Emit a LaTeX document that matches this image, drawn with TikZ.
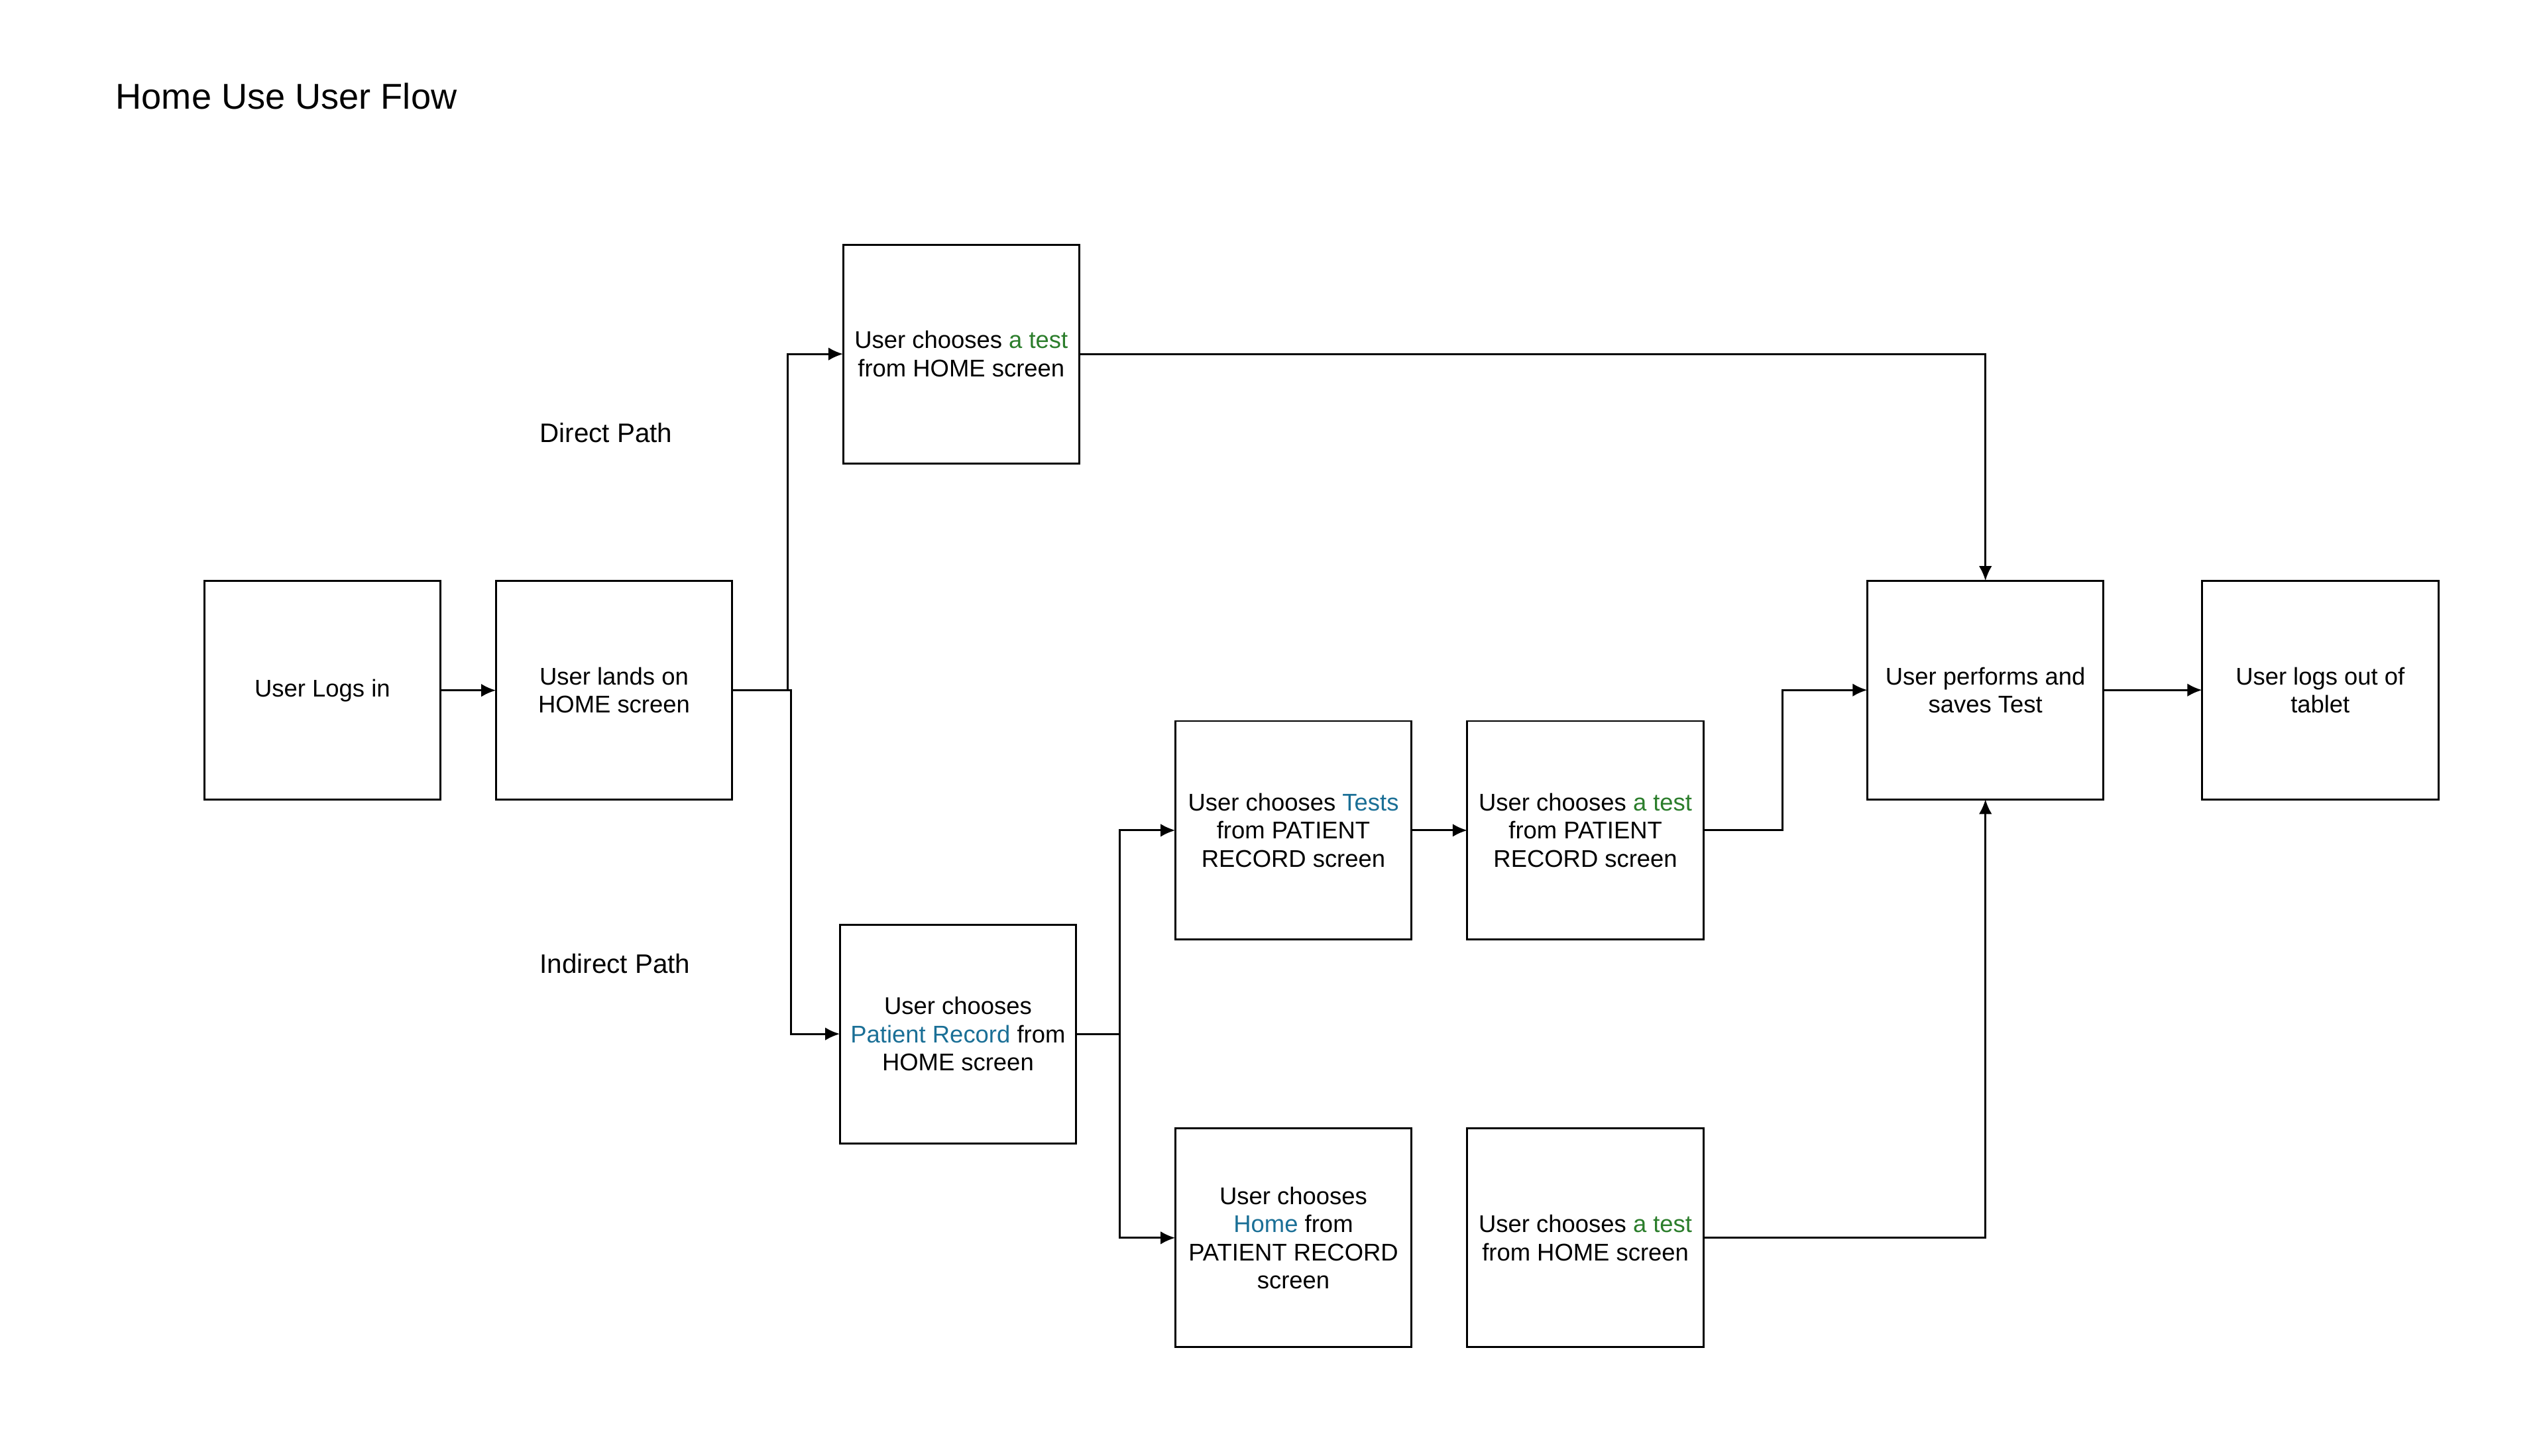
\documentclass[tikz,border=0pt]{standalone}
\usepackage{fontspec}
\setmainfont{Liberation Sans}
\usetikzlibrary{positioning,arrows.meta}

\definecolor{testgreen}{HTML}{2B7D2B}
\definecolor{linkblue}{HTML}{1A6F96}

\begin{document}
\begin{tikzpicture}[
    node distance=17pt and 17pt,
    >={Latex[length=4.5pt,width=4pt]},
    line width=0.6pt,
    flowbox/.style={draw, rectangle, align=center, minimum width=72.4pt,
                    minimum height=67pt, inner sep=2pt, outer sep=0pt,
                    font=\fontsize{7.4pt}{8.6pt}\selectfont},
    pathtag/.style={anchor=west, inner sep=0pt, font=\fontsize{8.2pt}{10pt}\selectfont}
]
  \useasboundingbox (0,0) rectangle (780pt,-446.25pt);

  % Title and path labels
  \node (title)    [anchor=base west, inner sep=0pt, font=\fontsize{11pt}{13pt}\selectfont]
                   at (35.2pt,-33.4pt) {Home Use User Flow};
  \node (direct)   [pathtag] at (165.2pt,-132.6pt) {Direct Path};
  \node (indirect) [pathtag] at (165.2pt,-295.3pt) {Indirect Path};

  % Main row
  \node (login)    [flowbox] at (98.8pt,-211.6pt) {User Logs in};
  \node (home)     [flowbox, right=of login] {User lands on\\HOME screen};

  % Direct path
  \node (pickDirect) [flowbox, above right=36.1pt and 34pt of home]
                   {User chooses \textcolor{testgreen}{a test}\\from HOME screen};

  % Indirect path
  \node (pickRecord) [flowbox, below right=38.3pt and 33pt of home]
                   {User chooses\\\textcolor{linkblue}{Patient Record} from\\HOME screen};
  \node (tests)    [flowbox, right=30.4pt of pickRecord, yshift=62.4pt]
                   {User chooses \textcolor{linkblue}{Tests}\\from PATIENT\\RECORD screen};
  \node (pickPR)   [flowbox, right=17.1pt of tests]
                   {User chooses \textcolor{testgreen}{a test}\\from PATIENT\\RECORD screen};
  \node (backHome) [flowbox, right=30.4pt of pickRecord, yshift=-62.5pt]
                   {User chooses\\\textcolor{linkblue}{Home} from\\PATIENT RECORD\\screen};
  \node (pickHome) [flowbox, right=17.1pt of backHome]
                   {User chooses \textcolor{testgreen}{a test}\\from HOME screen};

  % End of flow
  \node (saveTest) [flowbox, right=50.2pt of pickPR, yshift=43pt]
                   {User performs and\\saves Test};
  \node (logout)   [flowbox, right=30.2pt of saveTest] {User logs out of\\tablet};

  % Arrows
  \draw[->] (login) -- (home);
  \draw[->] (home.east) -- ++(17pt,0) |- (pickDirect.west);
  \draw[->] (home.east) -- ++(18pt,0) |- (pickRecord.west);
  \draw[->] (pickDirect.east) -| (saveTest.north);
  \draw[->] (pickRecord.east) -- ++(13.4pt,0) |- (tests.west);
  \draw[->] (pickRecord.east) -- ++(13.4pt,0) |- (backHome.west);
  \draw[->] (tests) -- (pickPR);
  \draw[->] (pickPR.east) -- ++(24.2pt,0) |- (saveTest.west);
  \draw[->] (pickHome.east) -| (saveTest.south);
  \draw[->] (saveTest) -- (logout);
\end{tikzpicture}
\end{document}
